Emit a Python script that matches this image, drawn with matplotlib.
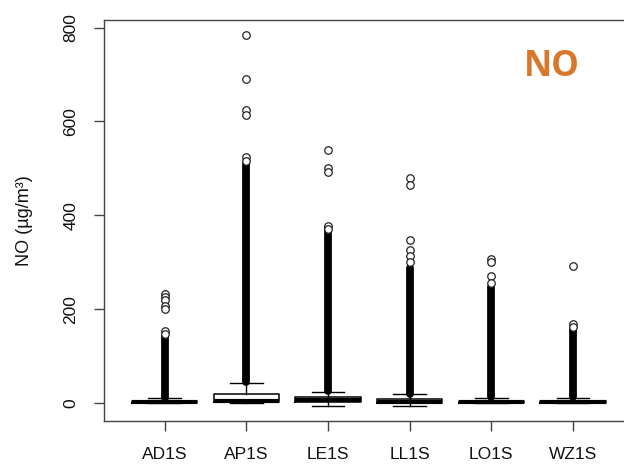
import numpy as np
import matplotlib.pyplot as plt

plt.rcParams['font.family'] = ['Liberation Sans', 'DejaVu Sans']

# sites and box statistics
sites = ["AD1S", "AP1S", "LE1S", "LL1S", "LO1S", "WZ1S"]
q1 = [0, 1.5, 1.5, 0, 0, 0]
med = [2, 5, 6, 3, 2, 2]
q3 = [4, 18.5, 13.5, 8, 4, 4]
whislo = [0, 0, -6, -6, 0, 0]
whishi = [10, 42, 24, 18.5, 12, 12]

# outliers: dense run (many overlapping circles) and separate circles
dense_lo = [12, 44, 26, 20, 14, 14]
dense_hi = [142, 510, 375, 288, 248, 160]
outliers = [
    [233, 227, 220, 207, 200, 153, 147],
    [784, 691, 624, 613, 525, 515],
    [539, 500, 492, 378, 370],
    [479, 464, 347, 326, 313, 301],
    [308, 301, 270, 255],
    [292, 168, 163],
]

yticks = [0, 200, 400, 600, 800]

fig = plt.figure(figsize=(6.24, 4.69), dpi=100)
ax = fig.add_axes([104.3/624, 48/469, 529/624, 401/469])

pos = np.arange(1, len(sites) + 1)
stats = []
for i, s in enumerate(sites):
    stats.append(dict(label=s, q1=q1[i], med=med[i], q3=q3[i],
                      whislo=whislo[i], whishi=whishi[i], fliers=[]))

ax.bxp(stats, positions=pos, widths=0.8, capwidths=0.4, showfliers=False,
       boxprops=dict(color="black", lw=1.1),
       medianprops=dict(color="black", lw=3.0, solid_capstyle="butt"),
       whiskerprops=dict(color="black", lw=1),
       capprops=dict(color="black", lw=1))

lc = ax.vlines(pos, dense_lo, dense_hi, color="black", lw=5.6, zorder=3)
lc.set_capstyle("round")

for i, vals in enumerate(outliers):
    ax.plot([pos[i]] * len(vals), vals, "o", ms=5.4, mfc="white", mec="#222222",
            mew=0.9, ls="none", zorder=4)

ax.set_xlim(0.26, 6.74)
ax.set_ylim(-38, 816)
ax.set_xticks(pos)
ax.set_xticklabels(sites, fontsize=12.5, color="#111111")
ax.set_yticks(yticks)
ax.set_yticklabels([str(v) for v in yticks], fontsize=12.5, color="#111111",
                   rotation=90, va="center")
ax.tick_params(axis="both", length=7.5, width=1, color="#444444", pad=11)

for sp in ax.spines.values():
    sp.set_color("#444444")
    sp.set_linewidth(1)

ax.set_ylabel("NO (µg/m³)", fontsize=13, color="#111111")
ax.yaxis.set_label_coords(-0.135, 0.5)

fig.text(552/624, 1 - 67/469, "NO", color="#D9782B", fontsize=25,
         fontweight="bold", ha="center", va="center",
         family=["Open Sans", "DejaVu Sans"])

fig.savefig("out.png", dpi=100)
